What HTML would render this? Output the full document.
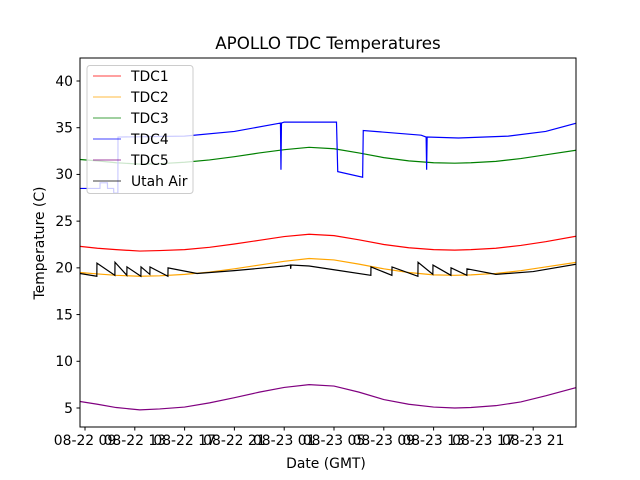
<!DOCTYPE html>
<html><head><meta charset="utf-8"><style>
body{margin:0;background:#fff;}
svg{display:block;font-family:"DejaVu Sans","Liberation Sans",sans-serif;}
</style></head><body>
<svg id="chart" width="640" height="480" viewBox="0 0 640 480">
<rect x="0" y="0" width="640" height="480" fill="#fff"/>
<text x="328" y="49" font-size="16.7" text-anchor="middle">APOLLO TDC Temperatures</text>
<defs><clipPath id="plotclip"><rect x="80" y="58" width="496" height="369"/></clipPath></defs>
<g id="series" clip-path="url(#plotclip)"></g>
<g id="axes"></g>
<rect x="80" y="58" width="496" height="369" fill="none" stroke="#000" stroke-width="1"/>
<text x="326" y="468" font-size="13.9" text-anchor="middle">Date (GMT)</text>
<text transform="translate(44,243) rotate(-90)" font-size="13.9" text-anchor="middle">Temperature (C)</text>
<g id="legend"></g>
</svg>
<script>
const yTicks = [5,10,15,20,25,30,35,40];
const xTickHours = [0,4,8,12,16,20,24,28,32,36];
const xTickLabels = ["08-22 09","08-22 13","08-22 17","08-22 21","08-23 01","08-23 05","08-23 09","08-23 13","08-23 17","08-23 21"];
const seriesNames = ["TDC1","TDC2","TDC3","TDC4","TDC5","Utah Air"];
const seriesColors = ["#ff0000","#ffa500","#008000","#0000ff","#800080","#000000"];
// hours since 08-22 09:00
const tSmooth = [-0.4,1,2.5,4.4,6,8,10,12,14,16,18,20,22,24,26,28,29.7,31,33,35,37,39.5];
const tdc1 = [22.3,22.1,21.95,21.8,21.85,21.95,22.2,22.55,22.95,23.35,23.6,23.45,23.0,22.5,22.15,21.95,21.9,21.95,22.1,22.4,22.8,23.4];
const tdc2 = [19.5,19.35,19.2,19.1,19.15,19.3,19.55,19.9,20.3,20.7,21.0,20.85,20.4,19.9,19.5,19.25,19.2,19.25,19.4,19.7,20.1,20.6];
const tdc3 = [31.6,31.45,31.25,31.1,31.15,31.3,31.55,31.9,32.3,32.65,32.9,32.75,32.3,31.8,31.45,31.25,31.2,31.25,31.4,31.7,32.1,32.6];
const tdc5 = [5.7,5.4,5.05,4.8,4.9,5.1,5.55,6.1,6.7,7.2,7.5,7.35,6.7,5.9,5.4,5.1,5.0,5.05,5.25,5.65,6.3,7.2];
const tTdc4 = [-0.4,1.2,1.21,1.8,1.81,2.3,2.31,2.64,2.65,8,12,15.7,15.74,15.78,16,20.2,20.3,22.3,22.35,27,27.4,27.44,27.48,30,34,37,39.5];
const tdc4 = [28.5,28.5,29.1,29.1,28.5,28.5,28.0,28.0,34.0,34.1,34.6,35.5,30.5,35.5,35.6,35.6,30.3,29.7,34.7,34.2,34.0,30.5,34.0,33.9,34.1,34.6,35.5];
const tAir = [-0.4,0.95,0.96,2.4,2.41,3.36,3.37,4.49,4.5,5.21,5.22,6.66,6.67,9,12,16,16.5,16.52,16.55,18,20,22.96,22.97,24.65,24.66,26.74,26.75,27.94,27.95,29.39,29.4,30.67,30.68,33,36,39.5];
const air = [19.4,19.1,20.5,19.2,20.6,19.2,20.1,19.1,20.1,19.3,20.1,19.1,20.0,19.4,19.7,20.2,20.3,19.9,20.3,20.2,19.8,19.2,20.1,19.2,20.1,19.1,20.6,19.3,20.3,19.2,20.0,19.2,19.9,19.3,19.6,20.4];

function xScale(h){return 85 + h*12.45;}
function yScale(v){return 408 - (v-5)*9.343;}
const NS="http://www.w3.org/2000/svg";
function pathFrom(ts,vs){return ts.map((t,i)=>(i?"L":"M")+xScale(t).toFixed(2)+","+yScale(vs[i]).toFixed(2)).join("");}
const sg=document.getElementById("series");
const data=[[tSmooth,tdc1],[tSmooth,tdc2],[tSmooth,tdc3],[tTdc4,tdc4],[tSmooth,tdc5],[tAir,air]];
data.forEach((d,i)=>{
  const p=document.createElementNS(NS,"path");
  p.setAttribute("d",pathFrom(d[0],d[1]));
  p.setAttribute("fill","none");
  p.setAttribute("stroke",seriesColors[i]);
  p.setAttribute("stroke-width","1.2");
  
  
  sg.appendChild(p);
});
const ax=document.getElementById("axes");
yTicks.forEach(v=>{
  const y=yScale(v);
  const l=document.createElementNS(NS,"line");
  l.setAttribute("x1",76.5);l.setAttribute("x2",80);l.setAttribute("y1",y);l.setAttribute("y2",y);l.setAttribute("stroke","#000");
  
  
  ax.appendChild(l);
  const t=document.createElementNS(NS,"text");
  t.setAttribute("x",73);t.setAttribute("y",y+4.8);t.setAttribute("font-size","13.9");t.setAttribute("text-anchor","end");
  t.textContent=v;
  
  
  ax.appendChild(t);
});
xTickHours.forEach((h,i)=>{
  const x=xScale(h);
  const l=document.createElementNS(NS,"line");
  l.setAttribute("x1",x);l.setAttribute("x2",x);l.setAttribute("y1",427);l.setAttribute("y2",430.5);l.setAttribute("stroke","#000");
  
  
  ax.appendChild(l);
  const t=document.createElementNS(NS,"text");
  t.setAttribute("x",x);t.setAttribute("y",445);t.setAttribute("font-size","13.9");t.setAttribute("text-anchor","middle");
  t.textContent=xTickLabels[i];
  
  
  ax.appendChild(t);
});
const lg=document.getElementById("legend");
const box=document.createElementNS(NS,"rect");
box.setAttribute("x",87);box.setAttribute("y",65.5);box.setAttribute("width",106);box.setAttribute("height",128);box.setAttribute("rx",3);
box.setAttribute("fill","rgba(255,255,255,0.8)");box.setAttribute("stroke","#cccccc");


lg.appendChild(box);
seriesNames.forEach((n,i)=>{
  const y=76+i*21;
  const l=document.createElementNS(NS,"line");
  l.setAttribute("x1",93);l.setAttribute("x2",121);l.setAttribute("y1",y);l.setAttribute("y2",y);l.setAttribute("stroke",seriesColors[i]);l.setAttribute("stroke-width","0.8");
  
  
  lg.appendChild(l);
  const t=document.createElementNS(NS,"text");
  t.setAttribute("x",131);t.setAttribute("y",y+5);t.setAttribute("font-size","13.9");
  t.textContent=n;
  
  
  lg.appendChild(t);
});
</script>
</body></html>
